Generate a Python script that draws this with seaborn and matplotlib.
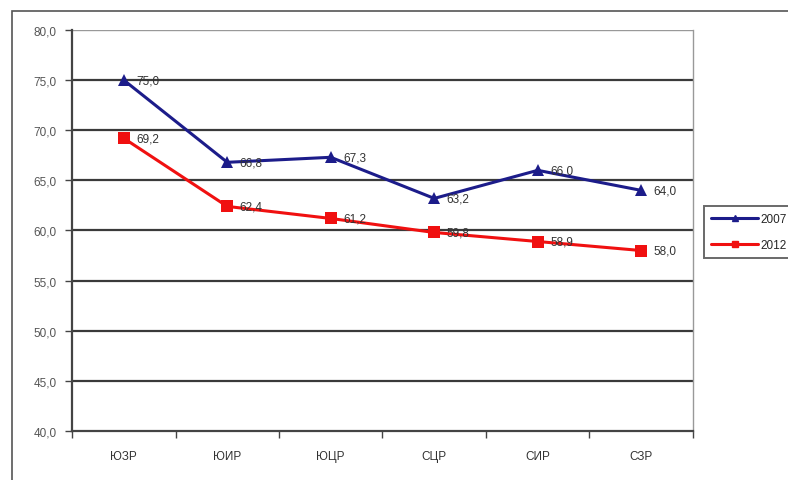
import matplotlib
matplotlib.use("Agg")
import matplotlib.pyplot as plt
from matplotlib.ticker import FuncFormatter, FixedLocator
from matplotlib.patches import Rectangle
import pandas as pd
import numpy as np
import seaborn as sns

# data
regions = ["ЮЗР", "ЮИР", "ЮЦР", "СЦР", "СИР", "СЗР"]
vals_2007 = [75.0, 66.8, 67.3, 63.2, 66.0, 64.0]
vals_2012 = [69.2, 62.4, 61.2, 59.8, 58.9, 58.0]
years = ["2007", "2012"]

sns.set_style("white")
plt.rcParams['font.family'] = ['Liberation Sans', 'DejaVu Sans']

df = pd.DataFrame({
    "pos": list(range(len(regions))) * 2,
    "region": regions * 2,
    "val": vals_2007 + vals_2012,
    "year": [years[0]] * len(regions) + [years[1]] * len(regions),
})

colors = {"2007": "#1c1c8a", "2012": "#f01010"}

fig = plt.figure(figsize=(7.88, 4.81), dpi=100)
ax = fig.add_axes([0.0914, 0.1019, 0.788, 0.8337])

# outer chart frame
fig.patches.append(Rectangle((12 / 788, -0.05), 1.0, (481 - 12) / 481 + 0.05,
                             transform=fig.transFigure, fill=False,
                             edgecolor="#555555", linewidth=1.2, zorder=0))

sns.lineplot(data=df, x="pos", y="val", hue="year", style="year",
             markers={"2007": "^", "2012": "s"}, dashes=False,
             palette=colors, linewidth=2.2, markersize=9,
             markeredgewidth=0, ax=ax, legend=False)

for yr, vals in zip(years, [vals_2007, vals_2012]):
    for i, v in enumerate(vals):
        ax.text(i + 0.12, v, ("%.1f" % v).replace(".", ","), fontsize=8.5,
                color="#333333", va="center", ha="left")

ax.set_ylim(40, 80)
ax.set_xlim(-0.5, len(regions) - 0.5)
ax.set_yticks(np.arange(40, 81, 5))
ax.yaxis.set_major_formatter(FuncFormatter(lambda v, p: ("%.1f" % v).replace(".", ",")))
ax.set_xticks(range(len(regions)))
ax.set_xticklabels(regions)
ax.xaxis.set_minor_locator(FixedLocator(np.arange(-0.5, len(regions), 1.0)))
ax.tick_params(axis="x", which="major", bottom=True, length=0, pad=14, labelsize=8.5, labelcolor="#333333")
ax.tick_params(axis="x", which="minor", bottom=True, length=5, width=1, color="#444444", direction="out")
ax.tick_params(axis="y", left=True, length=5, width=1, color="#444444", direction="out",
               labelsize=8.5, labelcolor="#555555", pad=6)
ax.set_xlabel("")
ax.set_ylabel("")

for yv in np.arange(45, 80, 5):
    ax.axhline(yv, color="#3a3a3a", linewidth=1.6, zorder=0)
ax.axhline(80, color="#999999", linewidth=1.0, zorder=0)

for side in ["left", "bottom"]:
    ax.spines[side].set_color("#444444")
    ax.spines[side].set_linewidth(1.6)
ax.spines["right"].set_color("#999999")
ax.spines["right"].set_linewidth(1.0)
ax.spines["top"].set_visible(False)

# legend
handles = [plt.Line2D([], [], color=colors[y], marker=m, markersize=5, linewidth=2.2)
           for y, m in zip(years, ["^", "s"])]
leg = fig.legend(handles, years, loc="upper left", bbox_to_anchor=(704 / 788, 1 - 207 / 481),
                 frameon=True, fontsize=8.5, handlelength=4.0, borderpad=0.6,
                 labelspacing=1.2, handletextpad=0.2, borderaxespad=0, fancybox=False)
leg.get_frame().set_edgecolor("#444444")
leg.get_frame().set_linewidth(1.4)

plt.savefig("out.png", dpi=100)
